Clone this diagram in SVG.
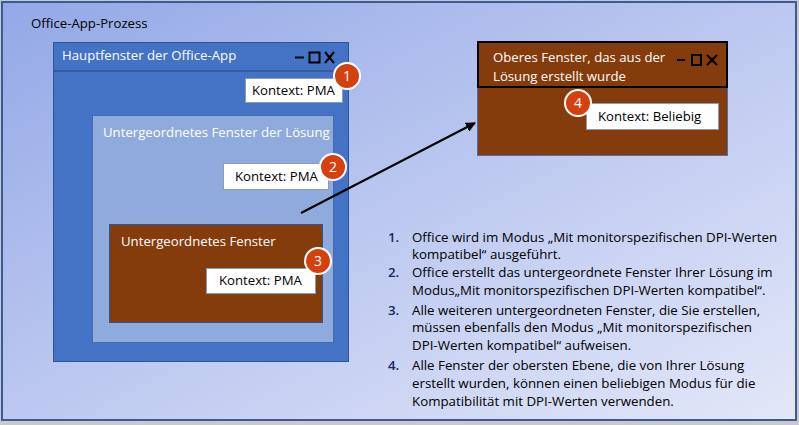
<svg xmlns="http://www.w3.org/2000/svg" width="799" height="425" viewBox="0 0 799 425">
<defs>
<linearGradient id="bg" x1="0" y1="0" x2="1" y2="1">
<stop offset="0" stop-color="#93a8e6"/>
<stop offset="0.5" stop-color="#bcc8f0"/>
<stop offset="1" stop-color="#e3e7f8"/>
</linearGradient>
<marker id="ah" viewBox="0 0 10 10" refX="9" refY="5" markerWidth="10" markerHeight="10" markerUnits="userSpaceOnUse" orient="auto">
<path d="M0,0 L10,5 L0,10 z" fill="#000"/>
</marker>
<style>
text{font-family:"Open Sans","Noto Sans","Liberation Sans",sans-serif;}
.lbl{font-size:13.2px;fill:#000;}
.wt{font-size:13.2px;fill:#fff;}
.ctx{fill:#fff;stroke:#8a9bb8;stroke-width:1;}
.badge{fill:#d4410f;stroke:#fff;stroke-width:2;}
.bn{font-size:14px;fill:#fff;text-anchor:middle;}
.ctl{stroke:#000;stroke-width:2;fill:none;}
.li{font-size:13.3px;fill:#000;}
.num{font-size:13.3px;fill:#14285e;font-weight:600;}
</style>
</defs>
<rect x="0" y="0" width="799" height="425" fill="#c9c9c9"/>
<g id="process">
<rect x="2" y="2" width="794" height="418" fill="url(#bg)" stroke="#3a5a9c" stroke-width="2"/>
<text class="lbl" x="31" y="28">Office-App-Prozess</text>
</g>
<g id="main-window">
<rect x="53.5" y="42.5" width="295" height="319" fill="#4472c4" stroke="#2f5597" stroke-width="1"/>
<line x1="53.5" y1="71" x2="348.5" y2="71" stroke="#2f5597" stroke-width="1.5"/>
<text class="wt" x="62" y="60">Hauptfenster der Office-App</text>
<line class="ctl" x1="295" y1="57.5" x2="304" y2="57.5"/>
<rect class="ctl" x="309.5" y="52.5" width="10" height="10"/>
<path class="ctl" d="M325,52 L334,63 M334,52 L325,63"/>
</g>
<g id="ctx1">
<rect class="ctx" x="245.5" y="78.5" width="97" height="24"/>
<text class="lbl" x="252" y="95">Kontext: PMA</text>
<circle class="badge" cx="347" cy="76" r="13"/>
<text class="bn" x="347" y="81">1</text>
</g>
<g id="solution-child">
<rect x="92.5" y="115.5" width="241" height="227" fill="#8faadc" stroke="#2f5597" stroke-opacity="0.6" stroke-width="1"/>
<text class="wt" x="103" y="137">Untergeordnetes Fenster der Lösung</text>
</g>
<g id="ctx2">
<rect class="ctx" x="223.5" y="163.5" width="105" height="26"/>
<text class="lbl" x="235" y="181">Kontext: PMA</text>
<circle class="badge" cx="333" cy="167" r="13"/>
<text class="bn" x="333" y="172">2</text>
</g>
<g id="child-window">
<rect x="109.5" y="224.5" width="213" height="98" fill="#843c0c" stroke="#2f5597" stroke-width="1"/>
<text class="wt" x="121" y="246">Untergeordnetes Fenster</text>
</g>
<g id="ctx3">
<rect class="ctx" x="206.5" y="268.5" width="109" height="25"/>
<text class="lbl" x="219" y="285">Kontext: PMA</text>
<circle class="badge" cx="318" cy="261" r="13"/>
<text class="bn" x="318" y="266">3</text>
</g>
<g id="top-window">
<rect x="477.5" y="87.5" width="250" height="68" fill="#843c0c" stroke="#4a6fb5" stroke-width="1"/>
<rect x="478" y="42" width="249" height="45" fill="#843c0c" stroke="#000" stroke-width="2"/>
<text class="wt" x="493" y="62">Oberes Fenster, das aus der</text>
<text class="wt" x="493" y="81">Lösung erstellt wurde</text>
<line class="ctl" x1="677" y1="60" x2="685" y2="60"/>
<rect class="ctl" x="692" y="55" width="9" height="10"/>
<path class="ctl" d="M707,55 L717,65 M717,55 L707,65"/>
</g>
<g id="ctx4">
<rect class="ctx" x="586.5" y="103.5" width="132" height="26"/>
<text class="lbl" x="598" y="121">Kontext: Beliebig</text>
<circle class="badge" cx="578" cy="103" r="13"/>
<text class="bn" x="578" y="108">4</text>
</g>
<g id="connectors">
<line x1="301" y1="213" x2="475" y2="123" stroke="#000" stroke-width="2" marker-end="url(#ah)"/>
</g>
<g id="notes">
<text class="num" x="388" y="242">1.</text>
<text class="li" x="412" y="242">Office wird im Modus „Mit monitorspezifischen DPI-Werten</text>
<text class="li" x="412" y="259">kompatibel“ ausgeführt.</text>
<text class="num" x="388" y="277">2.</text>
<text class="li" x="412" y="277">Office erstellt das untergeordnete Fenster Ihrer Lösung im</text>
<text class="li" x="412" y="295">Modus„Mit monitorspezifischen DPI-Werten kompatibel“.</text>
<text class="num" x="388" y="315">3.</text>
<text class="li" x="412" y="315">Alle weiteren untergeordneten Fenster, die Sie erstellen,</text>
<text class="li" x="412" y="332">müssen ebenfalls den Modus „Mit monitorspezifischen</text>
<text class="li" x="412" y="350">DPI-Werten kompatibel“ aufweisen.</text>
<text class="num" x="388" y="370">4.</text>
<text class="li" x="412" y="370">Alle Fenster der obersten Ebene, die von Ihrer Lösung</text>
<text class="li" x="412" y="388">erstellt wurden, können einen beliebigen Modus für die</text>
<text class="li" x="412" y="406">Kompatibilität mit DPI-Werten verwenden.</text>
</g>
</svg>
